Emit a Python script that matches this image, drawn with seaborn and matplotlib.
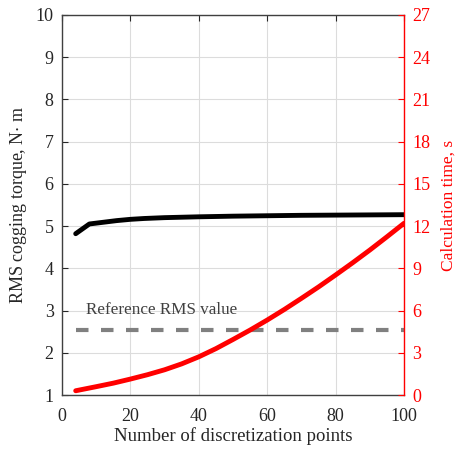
import numpy as np
import pandas as pd
import matplotlib
matplotlib.use("Agg")
import matplotlib.pyplot as plt
import seaborn as sns

# Discretization study: RMS cogging torque and computation time
points = [4, 8, 12, 16, 20, 24, 30, 40, 50, 60, 70, 80, 90, 100]
rms_torque = [4.82, 5.05, 5.09, 5.13, 5.16, 5.18, 5.20, 5.22, 5.235, 5.245, 5.255, 5.26, 5.265, 5.27]
calc_points = [4, 10, 15, 20, 25, 30, 35, 40, 45, 50, 55, 60, 65, 70, 75, 80, 85, 90, 95, 100]
calc_time = [0.31, 0.60, 0.85, 1.14, 1.45, 1.80, 2.22, 2.72, 3.30, 3.95, 4.62, 5.33, 6.08,
             6.87, 7.68, 8.53, 9.40, 10.30, 11.24, 12.20]
reference_rms = 2.55
reference_span = (4, 100)

sns.set_theme(style="white")
plt.rcParams["font.family"] = ["Liberation Serif", "DejaVu Serif"]
plt.rcParams["mathtext.fontset"] = "stix"

fig = plt.figure(figsize=(4.56, 4.49), dpi=100)
ax = fig.add_axes([0.136, 0.120, 0.750, 0.847])

df_t = pd.DataFrame({"n": points, "torque": rms_torque})
df_c = pd.DataFrame({"n": calc_points, "time": calc_time})

ax.hlines(reference_rms, *reference_span, color="#808080", lw=3, linestyles=[(0, (3.0, 3.0))], zorder=2)
ax.text(7, 2.83, "Reference RMS value", color="#404040", fontsize=12.3, va="bottom", ha="left")
sns.lineplot(data=df_t, x="n", y="torque", ax=ax, color="black", lw=3.5, zorder=3)

ax.set_xlim(0, 100)
ax.set_ylim(1, 10)
ax.set_xticks(range(0, 101, 20))
ax.set_yticks(range(1, 11))
ax.grid(True, color="#dcdcdc", lw=0.8)
ax.set_xlabel("Number of discretization points", fontsize=13.5, color="#262626", labelpad=2)
ax.set_ylabel("RMS cogging torque, N$\\cdot$ m", fontsize=13, color="#262626", labelpad=5)
ax.tick_params(axis="both", direction="in", length=4, width=0.8, labelsize=13,
               colors="#262626", top=True, right=False)
ax.tick_params(axis="x", pad=9)
ax.tick_params(axis="y", pad=6)
for side in ["left", "bottom", "top"]:
    ax.spines[side].set_color("#404040")
    ax.spines[side].set_linewidth(1.0)
ax.spines["right"].set_visible(False)

ax2 = ax.twinx()
sns.lineplot(data=df_c, x="n", y="time", ax=ax2, color="#ff0000", lw=3.5, zorder=3)
ax2.set_ylim(0, 27)
ax2.set_yticks(range(0, 28, 3))
ax2.set_ylabel("Calculation time, s", fontsize=12.5, color="#ff0000", labelpad=7)
ax2.tick_params(axis="y", direction="in", length=4, width=0.8, labelsize=13,
                colors="#ff0000", pad=6)
ax2.spines["right"].set_color("#ff0000")
ax2.spines["right"].set_linewidth(1.0)
for side in ["left", "bottom", "top"]:
    ax2.spines[side].set_visible(False)
ax2.grid(False)

fig.savefig("out.png", dpi=100)
